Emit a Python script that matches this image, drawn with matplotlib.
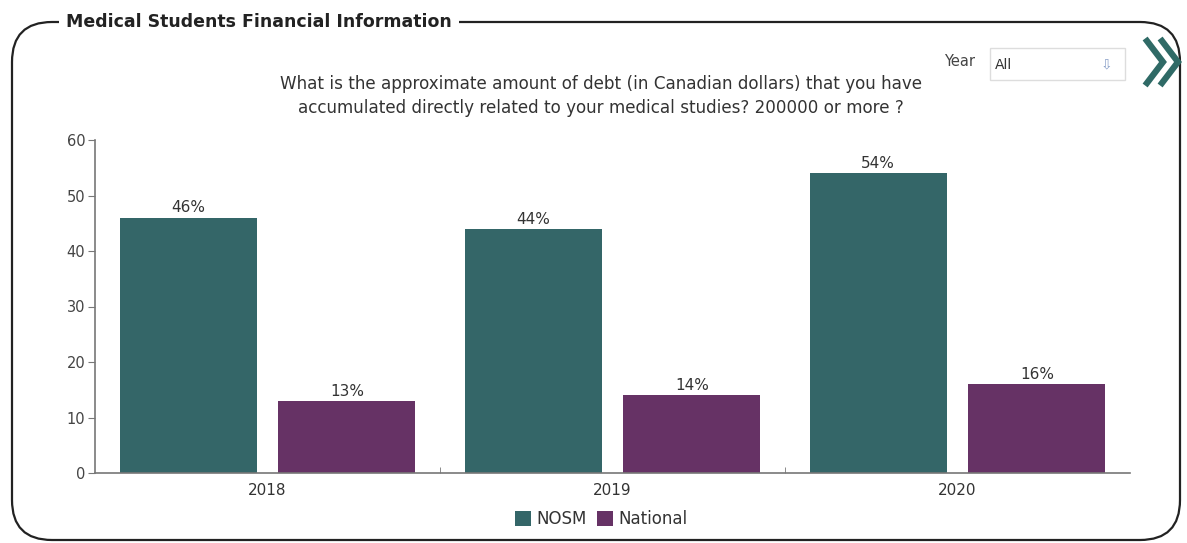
import numpy as np
import matplotlib.pyplot as plt
from matplotlib.patches import FancyBboxPatch, Rectangle
from matplotlib.lines import Line2D

plt.rcParams['font.family'] = ['DejaVu Sans']

years = ['2018', '2019', '2020']
nosm = [46, 44, 54]
national = [13, 14, 16]
series_names = ['NOSM', 'National']
colors = ['#346668', '#663265']

title = 'Medical Students Financial Information'
question = ('What is the approximate amount of debt (in Canadian dollars) that you have\n'
            'accumulated directly related to your medical studies? 200000 or more ?')

fig = plt.figure(figsize=(11.87, 5.43), dpi=100)
W, H = 11.87, 5.43

# outer card frame (in inches so the corners stay round)
frame = FancyBboxPatch((0.12, 0.03), 11.68, 5.18,
                       boxstyle='round,pad=0,rounding_size=0.4',
                       transform=fig.dpi_scale_trans, fill=False,
                       edgecolor='#222222', linewidth=1.6)
fig.add_artist(frame)
fig.text(0.60 / W, 1 - 0.22 / H, ' ' + title + ' ', fontsize=12.5, fontweight='bold',
         color='#222222', ha='left', va='center',
         bbox=dict(facecolor='white', edgecolor='none', pad=1))

# year filter widget
fig.text(944 / 1187, 1 - 62 / 543, 'Year', fontsize=10.5, color='#444444', ha='left', va='center')
fig.add_artist(Rectangle((990 / 1187, 1 - 80 / 543), 135 / 1187, 32 / 543,
                         transform=fig.transFigure, fill=False,
                         edgecolor='#dddddd', linewidth=1))
fig.text(995 / 1187, 1 - 65 / 543, 'All', fontsize=10, color='#333333', ha='left', va='center')
fig.text(1106 / 1187, 1 - 64 / 543, '⇩', fontsize=10, color='#8aa0c8', ha='center', va='center')

# double chevron
for dx in (0, 15):
    xs = np.array([1147, 1163, 1147]) + dx
    ys = np.array([41, 62, 83])
    fig.add_artist(Line2D(xs / 1187, 1 - ys / 543, transform=fig.transFigure,
                          color='#2f6a66', linewidth=4.5, solid_joinstyle='miter'))

fig.text(601 / 1187, 1 - 96 / 543, question, fontsize=12.1, color='#333333',
         ha='center', va='center', linespacing=1.45)

ax = fig.add_axes([95 / 1187, 1 - 473 / 543, 1035 / 1187, 333 / 543])
x = np.arange(len(years))
bw = 0.397
off = 0.23
b1 = ax.bar(x - off, nosm, bw, color=colors[0], label=series_names[0])
b2 = ax.bar(x + off, national, bw, color=colors[1], label=series_names[1])
for bars, vals in ((b1, nosm), (b2, national)):
    for rect, v in zip(bars, vals):
        ax.text(rect.get_x() + rect.get_width() / 2, v + 0.4, f'{v}%',
                ha='center', va='bottom', fontsize=11, color='#333333')

ax.set_xlim(-0.5, len(years) - 0.5)
ax.set_ylim(0, 60)
ax.set_yticks(range(0, 61, 10))
ax.set_xticks(x)
ax.set_xticklabels(years)
ax.set_xticks(np.arange(0.5, len(years) - 0.5, 1), minor=True)
ax.tick_params(axis='x', which='major', length=0, pad=7, labelsize=11, labelcolor='#333333')
ax.tick_params(axis='x', which='minor', length=4, direction='in', color='#777777')
ax.tick_params(axis='y', length=5, color='#777777', labelsize=10.5, labelcolor='#444444', pad=2)
for s in ('top', 'right'):
    ax.spines[s].set_visible(False)
for s in ('left', 'bottom'):
    ax.spines[s].set_color('#777777')
    ax.spines[s].set_linewidth(1.2)

fig.legend(handles=[b1, b2], labels=series_names, loc='center',
           bbox_to_anchor=(601 / 1187, 1 - 519 / 543), ncol=2, frameon=False,
           fontsize=12, handlelength=1.0, handleheight=1.0, handletextpad=0.3,
           columnspacing=0.6, labelcolor='#333333')

fig.savefig('out.png', dpi=100)
